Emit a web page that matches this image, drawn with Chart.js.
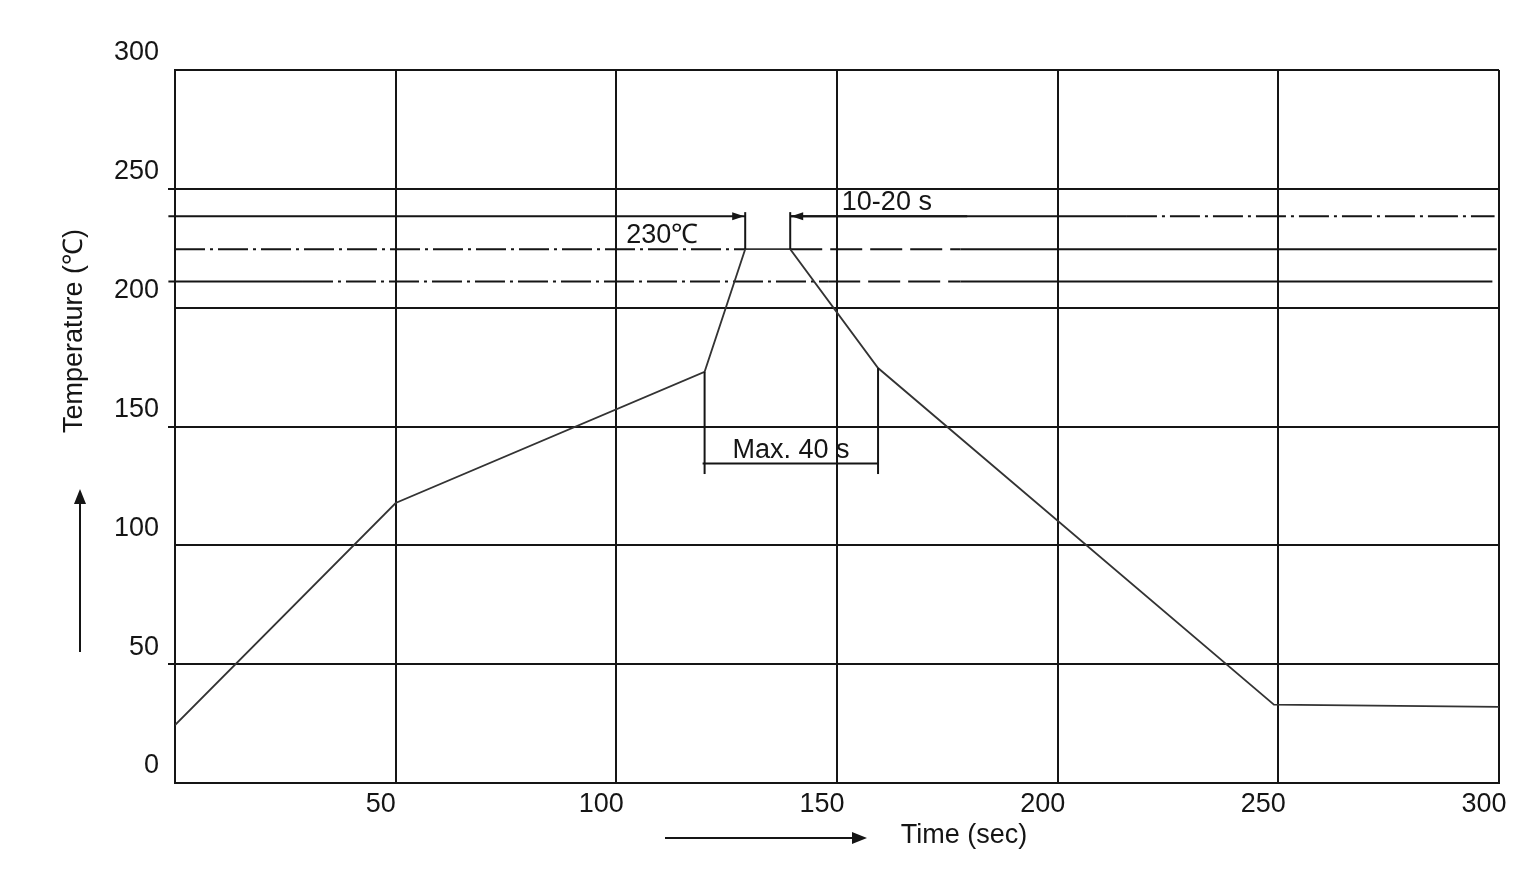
<!DOCTYPE html>
<html>
<head>
<meta charset="utf-8">
<script src="https://cdn.jsdelivr.net/npm/chart.js@4.4.0/dist/chart.umd.min.js"></script>
<style>
  html, body { margin: 0; background: #fff; }
  #wrap { width: 1540px; height: 890px; }
</style>
</head>
<body>
<div id="wrap"><canvas id="chart" width="1540" height="890"></canvas></div>
<script>
// reflow profile
const timeSec = [0, 50, 120, 129.2, 139.4, 159.3, 249, 300];
const tempC   = [24.4, 117.8, 173, 224.6, 224.6, 174.6, 33, 32];

const xTicks = [0, 50, 100, 150, 200, 250, 300];
const yTicks = [0, 50, 100, 150, 200, 250, 300];

// horizontal reference levels (degC)
const refLevels = [238.5, 224.6, 211];

// 10-20 s window at the peak
const peakWindowX = [129.2, 139.4];
const peakWindowTemp = [224.6, 240.2];
const peakArrowEnd = 179.5;

// max 40 s window
const maxWindowX = [120, 159.3];
const maxWindowTop = [173, 174.6];
const maxWindowBottom = 130;
const maxWindowBar = 134.4;

// annotation texts
const noteText = ['230\u2103', '10-20 s', 'Max. 40 s'];
const noteX = [110.4, 161.3, 139.6];
const noteY = [230.5, 244.2, 139.7];

const FONT = '"Liberation Sans", Arial, sans-serif';
const INK = '#151515';

function drawLine(ctx, x1, y1, x2, y2, dash) {
  ctx.beginPath();
  ctx.setLineDash(dash || []);
  ctx.moveTo(x1, y1);
  ctx.lineTo(x2, y2);
  ctx.stroke();
  ctx.setLineDash([]);
}

function arrowHead(ctx, x, y, angle, len, half) {
  ctx.save();
  ctx.translate(x, y);
  ctx.rotate(angle);
  ctx.beginPath();
  ctx.moveTo(0, 0);
  ctx.lineTo(-len, -half);
  ctx.lineTo(-len, half);
  ctx.closePath();
  ctx.fill();
  ctx.restore();
}

const DASHDOT = [30, 5, 3, 5];
const LONGDASH = [32, 8];
// segments per reference level: [from, to, dash]
const refStyle = [
  [[-1.5, 129.2, null], [139.4, 215.7, null], [215.7, 299, DASHDOT]],
  [[0, 129.2, DASHDOT], [139.4, 178, LONGDASH], [178, 299.5, null]],
  [[-1.5, 29, null], [29, 148, DASHDOT], [148, 178, LONGDASH], [178, 298.5, null]]
];

const refLinesPlugin = {
  id: 'refLines',
  beforeDatasetsDraw(chart) {
    const { ctx, scales: { x, y } } = chart;
    ctx.save();
    ctx.strokeStyle = INK;
    ctx.lineWidth = 2;
    refLevels.forEach((lvl, i) => {
      const py = y.getPixelForValue(lvl);
      refStyle[i].forEach(seg => {
        drawLine(ctx, x.getPixelForValue(seg[0]), py, x.getPixelForValue(seg[1]), py, seg[2]);
      });
    });
    ctx.restore();
  },
  afterDatasetsDraw(chart) {
    const { ctx, scales: { x, y } } = chart;
    ctx.save();
    ctx.strokeStyle = INK;
    ctx.fillStyle = INK;
    ctx.lineWidth = 2;

    // 10-20 s marks
    peakWindowX.forEach(t => {
      const px = x.getPixelForValue(t);
      drawLine(ctx, px, y.getPixelForValue(peakWindowTemp[0]), px, y.getPixelForValue(peakWindowTemp[1]));
    });
    const ay = y.getPixelForValue(refLevels[0]);
    arrowHead(ctx, x.getPixelForValue(peakWindowX[0]) - 1, ay, 0, 12, 4);
    drawLine(ctx, x.getPixelForValue(peakWindowX[1]), ay, x.getPixelForValue(peakArrowEnd), ay);
    arrowHead(ctx, x.getPixelForValue(peakWindowX[1]) + 1, ay, Math.PI, 12, 4);

    // max 40 s bracket
    maxWindowX.forEach((t, i) => {
      const px = x.getPixelForValue(t);
      drawLine(ctx, px, y.getPixelForValue(maxWindowTop[i]), px, y.getPixelForValue(maxWindowBottom));
    });
    const by = y.getPixelForValue(maxWindowBar);
    drawLine(ctx, x.getPixelForValue(maxWindowX[0]) - 2, by, x.getPixelForValue(maxWindowX[1]), by);

    // texts
    ctx.font = '27px ' + FONT;
    ctx.textAlign = 'center';
    ctx.textBaseline = 'middle';
    noteText.forEach((txt, i) => {
      ctx.fillText(txt, x.getPixelForValue(noteX[i]), y.getPixelForValue(noteY[i]));
    });
    ctx.restore();
  },
  afterDraw(chart) {
    const { ctx } = chart;
    ctx.save();
    ctx.fillStyle = INK;
    ctx.strokeStyle = INK;
    ctx.lineWidth = 2;
    ctx.font = '27px ' + FONT;
    ctx.textAlign = 'center';
    ctx.textBaseline = 'middle';

    // y title + arrow
    ctx.save();
    ctx.translate(75, 331);
    ctx.rotate(-Math.PI / 2);
    ctx.fillText('Temperature (\u2103)', 0, 0);
    ctx.restore();
    drawLine(ctx, 80, 652, 80, 502);
    arrowHead(ctx, 80, 489, -Math.PI / 2, 15, 6);

    // x title + arrow
    ctx.fillText('Time (sec)', 964, 836);
    drawLine(ctx, 665, 838, 852, 838);
    arrowHead(ctx, 867, 838, 0, 15, 6);
    ctx.restore();
  }
};

new Chart(document.getElementById('chart'), {
  type: 'line',
  data: {
    datasets: [{
      data: timeSec.map((t, i) => ({ x: t, y: tempC[i] })),
      borderColor: '#333333',
      borderWidth: 1.8,
      pointRadius: 0,
      tension: 0,
      fill: false
    }]
  },
  options: {
    responsive: false,
    animation: false,
    devicePixelRatio: 1,
    layout: { padding: { top: 70, right: 41, left: 0, bottom: 0 } },
    plugins: { legend: { display: false }, tooltip: { enabled: false } },
    scales: {
      x: {
        type: 'linear',
        min: 0,
        max: 300,
        afterBuildTicks: s => { s.ticks = xTicks.map(v => ({ value: v })); },
        afterFit: s => { s.height = 107; },
        ticks: {
          callback: v => (v === 0 ? '' : v),
          font: { family: FONT, size: 27 },
          color: INK,
          padding: 5,
          labelOffset: -15,
          maxRotation: 0,
          autoSkip: false
        },
        grid: { color: INK, lineWidth: 2, drawTicks: false },
        border: { color: INK, width: 2 }
      },
      y: {
        type: 'linear',
        min: 0,
        max: 300,
        afterBuildTicks: s => { s.ticks = yTicks.map(v => ({ value: v })); },
        afterFit: s => { s.width = 175; },
        ticks: {
          font: { family: FONT, size: 27 },
          color: INK,
          padding: 9,
          labelOffset: -17,
          autoSkip: false
        },
        grid: {
          color: INK,
          lineWidth: 2,
          tickLength: 7,
          tickColor: c => ([50, 150, 250].includes(c.tick && c.tick.value) ? INK : 'rgba(0,0,0,0)')
        },
        border: { color: INK, width: 2 }
      }
    }
  },
  plugins: [refLinesPlugin]
});
</script>
</body>
</html>
